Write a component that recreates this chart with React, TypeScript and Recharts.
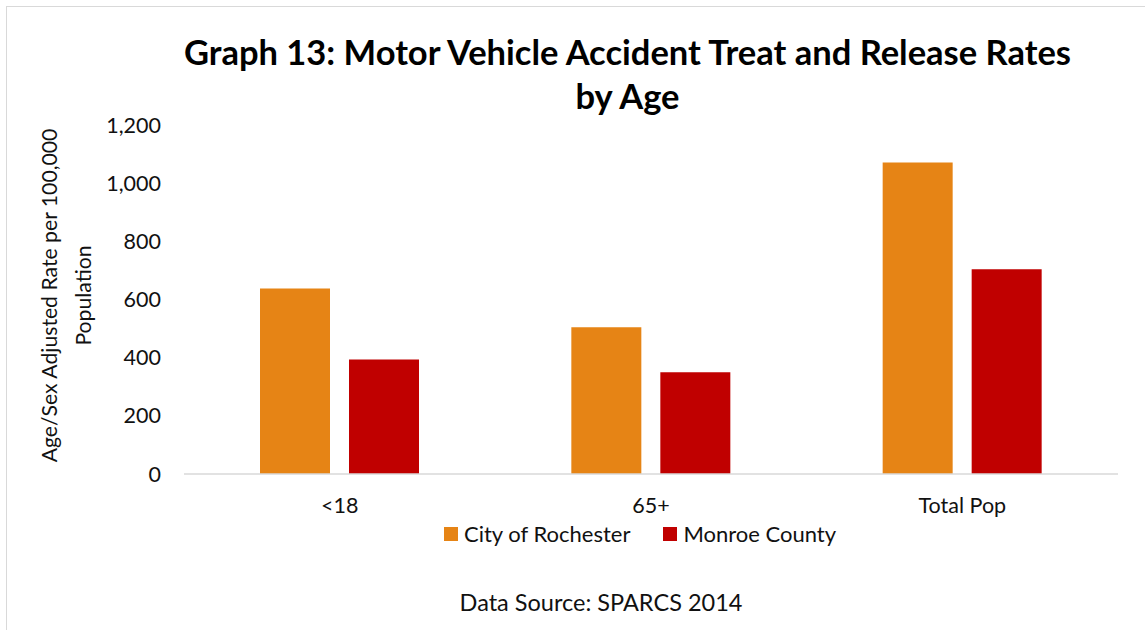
import { BarChart, Bar, XAxis, YAxis } from 'recharts';

const categories = ['<18', '65+', 'Total Pop'];
const cityOfRochester = [638, 505, 1071];
const monroeCounty = [394, 350, 704];
const yTicks = [0, 200, 400, 600, 800, 1000, 1200];

const ORANGE = '#E68415';
const RED = '#C00000';
const FONT = 'Lato, "Open Sans", sans-serif';

const data = categories.map((c, i) => ({
  name: c,
  city: cityOfRochester[i],
  county: monroeCounty[i],
}));

function YLabel(props: any) {
  const { viewBox } = props;
  const cy = viewBox.y + viewBox.height / 2 - 4;
  return (
    <g fontFamily={FONT} fontSize={21.2} fill="#111">
      <text x={57} y={cy} transform={`rotate(-90 57 ${cy})`} textAnchor="middle">
        Age/Sex Adjusted Rate per 100,000
      </text>
      <text x={91} y={cy} transform={`rotate(-90 91 ${cy})`} textAnchor="middle">
        Population
      </text>
    </g>
  );
}

export default function App() {
  return (
    <div style={{ position: 'absolute', left: 0, top: 0, width: 1145, height: 630, background: '#fff', fontFamily: FONT }}>
      <div style={{ position: 'absolute', left: 6, top: 6, width: 1145, height: 630, border: '1.5px solid #d9d9d9', boxSizing: 'border-box' }} />
      <div
        style={{
          position: 'absolute', left: 130, width: 995, top: 30, textAlign: 'center',
          fontSize: 34.5, fontWeight: 700, lineHeight: '44px', color: '#000',
        }}
      >
        Graph 13: Motor Vehicle Accident Treat and Release Rates
        <br />
        by Age
      </div>
      <div style={{ position: 'absolute', left: 0, top: 0 }}>
        <BarChart
          width={1145}
          height={630}
          data={data}
          margin={{ top: 125, right: 27, bottom: 116, left: 0 }}
          barGap={19}
          barSize={70}
        >
          <XAxis
            dataKey="name"
            height={40}
            tickLine={false}
            tickSize={0}
            tickMargin={24}
            axisLine={{ stroke: '#d9d9d9', strokeWidth: 1.5 }}
            tick={{ fontSize: 21.5, fill: '#111', fontFamily: FONT }}
          />
          <YAxis
            width={184}
            domain={[0, 1200]}
            ticks={yTicks}
            axisLine={false}
            tickLine={false}
            tickSize={0}
            tickMargin={23}
            tickFormatter={(v: number) => v.toLocaleString('en-US')}
            tick={{ fontSize: 21.5, fill: '#111', fontFamily: FONT }}
            label={<YLabel />}
          />
          <Bar dataKey="city" name="City of Rochester" fill={ORANGE} isAnimationActive={false} />
          <Bar dataKey="county" name="Monroe County" fill={RED} isAnimationActive={false} />
        </BarChart>
      </div>
      <div style={{ position: 'absolute', top: 520, left: 444, display: 'flex', alignItems: 'center', fontSize: 22, color: '#111', lineHeight: '28px' }}>
        <span style={{ width: 14, height: 14, background: ORANGE, display: 'inline-block', marginRight: 6 }} />
        <span>City of Rochester</span>
        <span style={{ width: 14, height: 14, background: RED, display: 'inline-block', marginLeft: 33, marginRight: 6 }} />
        <span>Monroe County</span>
      </div>
      <div style={{ position: 'absolute', top: 587, left: 0, width: 1202, textAlign: 'center', fontSize: 23.5, color: '#111', lineHeight: '30px' }}>
        Data Source: SPARCS 2014
      </div>
    </div>
  );
}
